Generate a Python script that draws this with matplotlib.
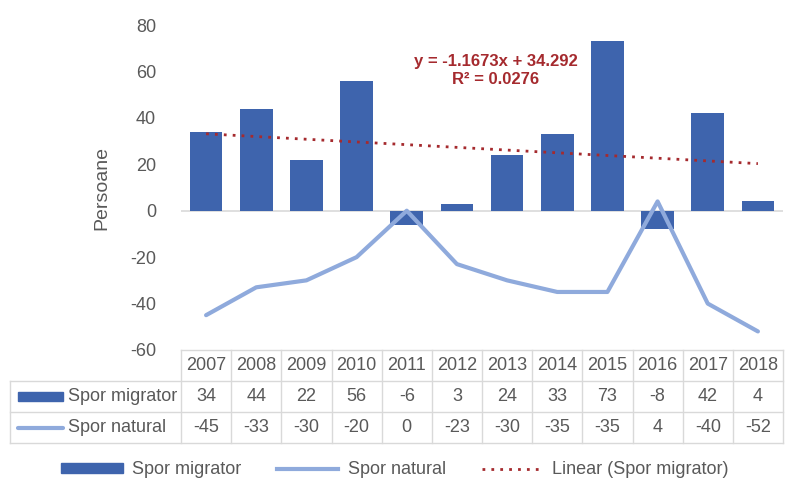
import matplotlib
matplotlib.use("Agg")
import matplotlib.pyplot as plt
from matplotlib.patches import Rectangle, Patch
from matplotlib.lines import Line2D
from matplotlib import font_manager as fm
import numpy as np

years = ["2007", "2008", "2009", "2010", "2011", "2012", "2013", "2014", "2015", "2016", "2017", "2018"]
spor_migrator = [34, 44, 22, 56, -6, 3, 24, 33, 73, -8, 42, 4]
spor_natural = [-45, -33, -30, -20, 0, -23, -30, -35, -35, 4, -40, -52]
series_names = ["Spor migrator", "Spor natural"]
trend_name = "Linear (Spor migrator)"
trend_slope = -1.1673
trend_intercept = 34.292
trend_r2 = 0.0276
y_ticks = [-60, -40, -20, 0, 20, 40, 60, 80]

names = {f.name for f in fm.fontManager.ttflist}
fam = "Liberation Sans Narrow" if "Liberation Sans Narrow" in names else "Liberation Sans"
plt.rcParams['font.family'] = [fam, 'DejaVu Sans']

BAR = "#3E64AD"
LINE = "#8FAADC"
TREND = "#A52A2E"
TXT = "#595959"
GRID = "#D9D9D9"

W, H = 790, 483
fig = plt.figure(figsize=(W / 100, H / 100), dpi=100)

def px_ax(x0, y0, x1, y1):
    return fig.add_axes([x0 / W, 1 - y1 / H, (x1 - x0) / W, (y1 - y0) / H])

PL, PR, PT, PB = 181, 783, 25, 350
ax = px_ax(PL, PT, PR, PB)
x = np.arange(1, len(years) + 1)
ax.bar(x, spor_migrator, width=0.65, color=BAR, zorder=2)
ax.plot(x, spor_natural, color=LINE, lw=3, solid_capstyle='round', zorder=3)
pred = trend_slope * x + trend_intercept
ax.plot(x, pred, color=TREND, lw=2, ls=(0, (1, 2.2)), zorder=4)
ax.axhline(0, color=GRID, lw=1.2, zorder=1)
ax.set_xlim(0.5, len(years) + 0.5)
ax.set_ylim(-60, 80)
ax.set_yticks(y_ticks)
ax.set_yticklabels([str(v) for v in y_ticks])
ax.set_xticks([])
ax.tick_params(axis='y', length=0, labelsize=13, labelcolor=TXT, pad=18)
for s in ax.spines.values():
    s.set_visible(False)
ax.set_ylabel("Persoane", fontsize=14, color=TXT, labelpad=14)
ax.text(0.523, 0.86, f"y = {trend_slope}x + {trend_intercept}\nR² = {trend_r2}",
        transform=ax.transAxes, ha='center', va='center', fontsize=12,
        fontweight='bold', color=TREND, linespacing=1.25)

# data table
TL, TT, TB = 10, 350, 443
unit = (PR - PL) / len(years)
left_u = 0.5 - (PL - TL) / unit
axt = px_ax(TL, TT, PR, TB)
axt.set_xlim(left_u, len(years) + 0.5)
axt.set_ylim(0, 3)
axt.axis('off')
lw = 1.0
axt.plot([0.5, len(years) + 0.5], [3, 3], color=GRID, lw=lw, clip_on=False)
for yy in [2, 1, 0]:
    axt.plot([left_u, len(years) + 0.5], [yy, yy], color=GRID, lw=lw, clip_on=False)
for i in range(len(years) + 1):
    axt.plot([0.5 + i, 0.5 + i], [0, 3], color=GRID, lw=lw, clip_on=False)
axt.plot([left_u, left_u], [0, 2], color=GRID, lw=lw, clip_on=False)

for i, yr in enumerate(years):
    axt.text(i + 1, 2.5, yr, ha='center', va='center', fontsize=13, color=TXT)
    axt.text(i + 1, 1.5, str(spor_migrator[i]), ha='center', va='center', fontsize=13, color=TXT)
    axt.text(i + 1, 0.5, str(spor_natural[i]), ha='center', va='center', fontsize=13, color=TXT)

def u(px):
    return 0.5 + (px - PL) / unit

axt.add_patch(Rectangle((u(18), 1.5 - 0.16), u(63) - u(18), 0.32, color=BAR, clip_on=False))
axt.plot([u(18), u(63)], [0.5, 0.5], color=LINE, lw=3, solid_capstyle='round', clip_on=False)
axt.text(u(68), 1.5, series_names[0], ha='left', va='center', fontsize=13, color=TXT)
axt.text(u(68), 0.5, series_names[1], ha='left', va='center', fontsize=13, color=TXT)

handles = [Patch(color=BAR, label=series_names[0]),
           Line2D([], [], color=LINE, lw=3, label=series_names[1]),
           Line2D([], [], color=TREND, lw=2, ls=(0, (1, 2.2)), label=trend_name)]
leg = fig.legend(handles=handles, loc='center', bbox_to_anchor=(0.5, 1 - 470 / H), ncol=3,
                 frameon=False, fontsize=13, handlelength=3.4, handleheight=0.45,
                 columnspacing=2.0, handletextpad=0.5)
for t in leg.get_texts():
    t.set_color(TXT)

fig.savefig("out.png", dpi=100)
